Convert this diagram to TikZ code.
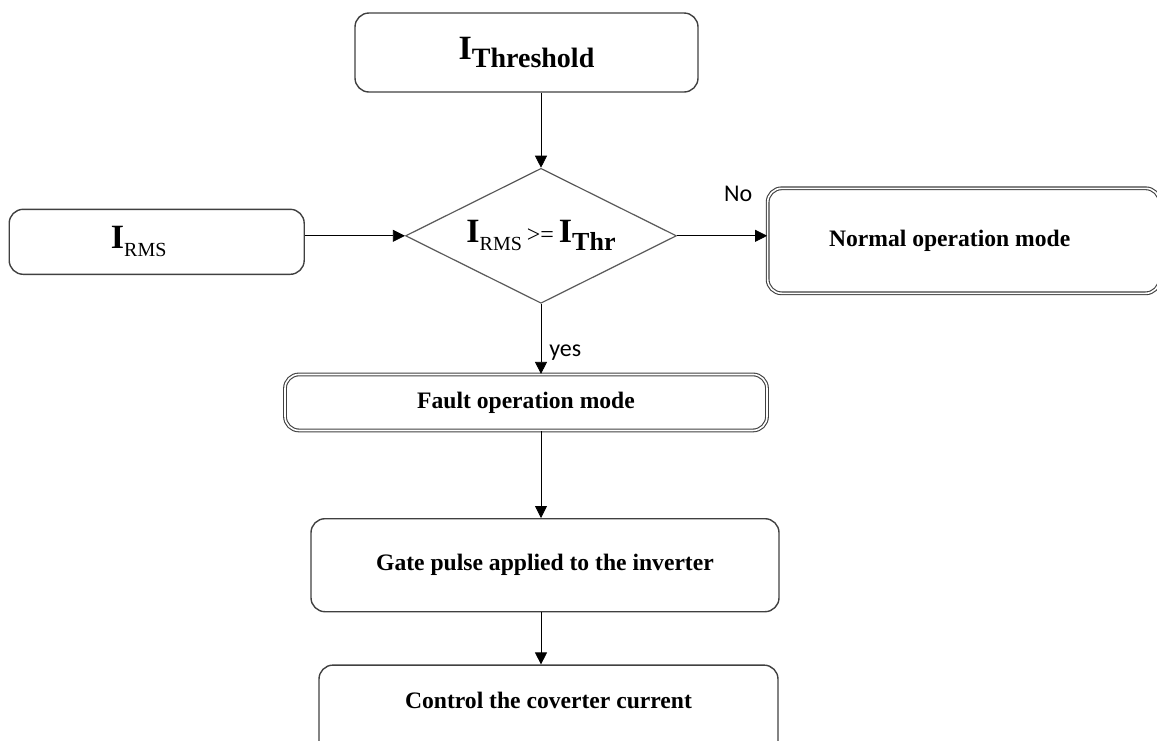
\documentclass[tikz,border=0pt]{standalone}
\usepackage{fontspec}
\setmainfont{Liberation Serif}
\newfontfamily\labelfont{Carlito}
\usetikzlibrary{shapes,arrows.meta,calc,positioning}
\newcommand{\bigI}{{\fontsize{17}{20}\selectfont I}}
\newcommand{\subtxt}[2][10]{\raisebox{-4pt}{\fontsize{#1}{12}\selectfont #2}}
\tikzset{
    -{Triangle[length=6pt,width=6pt]},auto,semithick,
    box/.style ={rectangle, rounded corners=7pt, draw=black!75, line width=0.7pt, inner sep=0pt,
                 font=\fontsize{11.8}{14}\selectfont\bfseries},
    dbox/.style = {box, double, line width=0.55pt, double distance=0.8pt},
    decision/.style = {diamond, aspect=2, draw=black!65, line width=0.6pt, inner sep=0pt,
                 minimum width=135.5pt, minimum height=67.5pt, font=\bfseries},
    el/.style = {font=\labelfont\fontsize{12}{14}\selectfont, inner sep=2pt}
}
\begin{document}
\begin{tikzpicture}[x=0.5pt,y=-0.5pt]
    \path[use as bounding box, clip] (0,0) rectangle (1157,740);
    \node[box, minimum width=171.5pt, minimum height=39.5pt] (thr) at (526.5,52.5) {\bigI\subtxt[14]{Threshold}};
    \node[decision] (dec) [below=37.5pt of thr, xshift=7.25pt] {\bigI\subtxt{\mdseries RMS} {\fontsize{12}{14}\selectfont\mdseries >=} \bigI\subtxt[13]{Thr}};
    \node[box, minimum width=147.5pt, minimum height=32.5pt] (rms) [left=50pt of dec, yshift=-3pt] {\bigI\subtxt{\mdseries RMS}\hspace*{18pt}};
    \node[dbox, minimum width=196pt, minimum height=52.5pt] (norm) [right=45pt of dec, yshift=-2.5pt] {Normal operation mode\hspace*{14pt}};
    \node[dbox, minimum width=241pt, minimum height=28pt] (fault) [below=35pt of dec, xshift=-7.5pt] {Fault operation mode};
    \node[box, minimum width=234pt, minimum height=46.5pt] (gate) [below=43.5pt of fault, xshift=9.5pt] {Gate pulse applied to the inverter};
    \node[box, minimum width=229.5pt, text height=21.5pt, text depth=38.5pt] (ctrl) [below=26pt of gate, xshift=1.75pt] {Control the coverter current};

    \draw (thr.south -| dec.north) -- (dec.north);
    \draw (rms.east |- dec.west) -- (dec.west);
    \draw (dec.east) -- (norm.west |- dec.east) node[el, pos=0.68, above, yshift=15pt] {No};
    \draw (dec.south) -- (dec.south |- fault.north) node[el, pos=0.69, right, xshift=2pt] {yes};
    \draw (dec.south |- fault.south) -- (dec.south |- gate.north);
    \draw (dec.south |- gate.south) -- (dec.south |- ctrl.north);
\end{tikzpicture}
\end{document}
